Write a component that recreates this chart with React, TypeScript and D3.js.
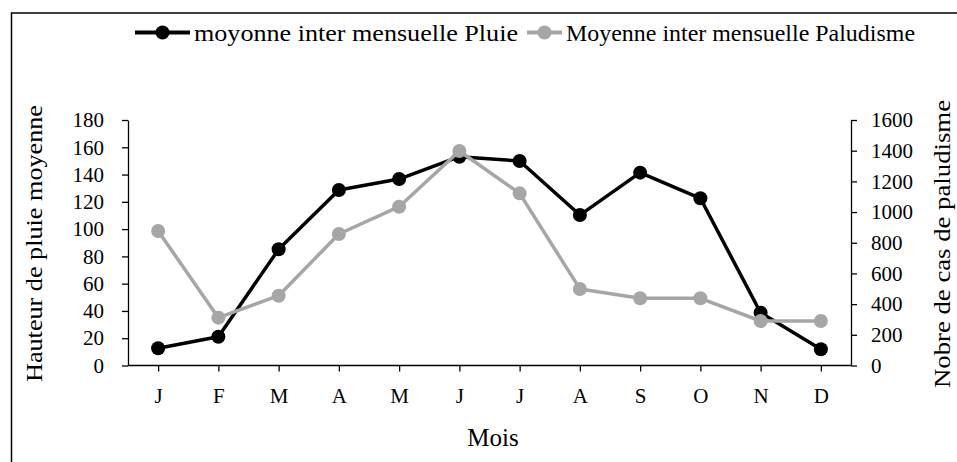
import React, { useRef, useEffect } from "react";
import * as d3 from "d3";

const months = ["J", "F", "M", "A", "M", "J", "J", "A", "S", "O", "N", "D"];
const pluie = [12.6, 21.1, 85.2, 128.7, 136.7, 153.1, 149.9, 110.3, 141.4, 122.6, 38.7, 11.9];
const paludisme = [877, 312, 455, 857, 1035, 1398, 1122, 499, 438, 438, 290, 290];
const leftTicks = [0, 20, 40, 60, 80, 100, 120, 140, 160, 180];
const rightTicks = [0, 200, 400, 600, 800, 1000, 1200, 1400, 1600];
const seriesNames = ["moyonne inter mensuelle Pluie", "Moyenne inter mensuelle Paludisme"];
const leftTitle = "Hauteur de pluie moyenne";
const rightTitle = "Nobre de cas de paludisme";
const xTitle = "Mois";

const FONT = "'Liberation Serif', 'Times New Roman', serif";

export default function App() {
  const ref = useRef<SVGSVGElement>(null);
  useEffect(() => {
    const svg = d3.select(ref.current);
    svg.selectAll("*").remove();
    const L = 128, R = 851, T = 120, B = 365.5;
    const idx = months.map((_, i) => i);
    const x = d3.scalePoint<number>().domain(idx).range([L, R]).padding(0.5);
    const yL = d3.scaleLinear().domain([0, 180]).range([B, T]);
    const yR = d3.scaleLinear().domain([0, 1600]).range([B, T]);

    svg.append("rect").attr("x", 11.5).attr("y", 13).attr("width", 1000).attr("height", 1000)
      .attr("fill", "white").attr("stroke", "black").attr("stroke-width", 1.5);

    const styleAxis = (g: any) => {
      g.attr("font-family", FONT);
      g.selectAll("path").attr("stroke", "black").attr("stroke-width", 1.3);
      g.selectAll("line").attr("stroke", "black").attr("stroke-width", 1.3);
      g.selectAll("text").attr("font-family", FONT).attr("font-size", 21).attr("fill", "black");
    };

    const gl = svg.append("g").attr("transform", `translate(${L},0)`)
      .call(d3.axisLeft(yL).tickValues(leftTicks).tickFormat(d3.format("d")).tickSize(6).tickSizeOuter(0).tickPadding(18));
    styleAxis(gl);
    const gr = svg.append("g").attr("transform", `translate(${R},0)`)
      .call(d3.axisRight(yR).tickValues(rightTicks).tickFormat(d3.format("d")).tickSize(6).tickSizeOuter(0).tickPadding(14));
    styleAxis(gr);
    const gx = svg.append("g").attr("transform", `translate(0,${B})`)
      .call(d3.axisBottom(x).tickFormat((i: any) => months[i]).tickSize(6).tickSizeOuter(0).tickPadding(17));
    gx.select("path.domain").attr("d", `M${L},0H${R}`);
    styleAxis(gx);

    const drawSeries = (vals: number[], y: any, color: string) => {
      const line = d3.line<number>().x((_, i) => x(i)!).y((d) => y(d));
      svg.append("path").attr("d", line(vals)!).attr("fill", "none").attr("stroke", color)
        .attr("stroke-width", 3.5).attr("stroke-linejoin", "round");
      svg.append("g").selectAll("circle").data(vals).join("circle")
        .attr("cx", (_, i) => x(i)!).attr("cy", (d) => y(d)).attr("r", 7).attr("fill", color);
    };
    drawSeries(pluie, yL, "#000000");
    drawSeries(paludisme, yR, "#a6a6a6");

    const leg = [
      { name: seriesNames[0], color: "#000000", x0: 135, x1: 190, tx: 194, len: 324 },
      { name: seriesNames[1], color: "#a6a6a6", x0: 527, x1: 562, tx: 566, len: 349 },
    ];
    leg.forEach((d) => {
      svg.append("line").attr("x1", d.x0).attr("x2", d.x1).attr("y1", 32.5).attr("y2", 32.5)
        .attr("stroke", d.color).attr("stroke-width", 4);
      svg.append("circle").attr("cx", (d.x0 + d.x1) / 2).attr("cy", 32.5).attr("r", 7).attr("fill", d.color);
      svg.append("text").attr("x", d.tx).attr("y", 40.5).attr("font-family", FONT).attr("font-size", 24)
        .attr("textLength", d.len).attr("lengthAdjust", "spacingAndGlyphs").text(d.name);
    });

    svg.append("text").attr("transform", `translate(42,243.5) rotate(-90)`).attr("text-anchor", "middle")
      .attr("font-family", FONT).attr("font-size", 24).attr("textLength", 277)
      .attr("lengthAdjust", "spacingAndGlyphs").text(leftTitle);
    svg.append("text").attr("transform", `translate(950,244) rotate(-90)`).attr("text-anchor", "middle")
      .attr("font-family", FONT).attr("font-size", 24).attr("textLength", 288)
      .attr("lengthAdjust", "spacingAndGlyphs").text(rightTitle);
    svg.append("text").attr("x", 493).attr("y", 446).attr("text-anchor", "middle")
      .attr("font-family", FONT).attr("font-size", 25).text(xTitle);
  }, []);
  return (
    <svg ref={ref} width={957} height={462}
      style={{ position: "absolute", left: 0, top: 0, display: "block", background: "white" }} />
  );
}
